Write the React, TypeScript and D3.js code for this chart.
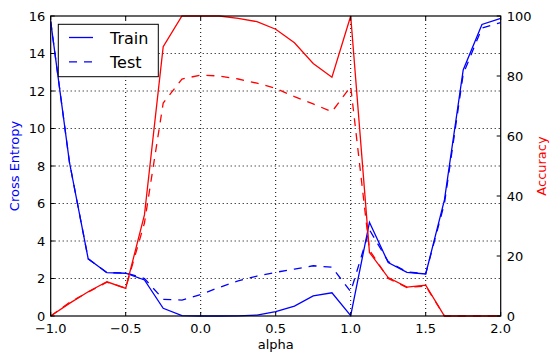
import React from "react";
import * as d3 from "d3";

// alpha values (25 steps from -1 to 2)
const alphas = d3.range(25).map(i => -1 + i * 0.125);

const trainLoss = [15.7, 8.2, 3.05, 2.31, 2.28, 1.92, 0.41, 0.02, 0, 0, 0.01, 0.05, 0.23, 0.53, 1.07, 1.24, 0.02, 5.0, 2.85, 2.33, 2.24, 6.19, 13.12, 15.55, 15.87];
const testLoss = [15.7, 8.2, 3.05, 2.31, 2.3, 2.0, 0.89, 0.85, 1.15, 1.53, 1.87, 2.13, 2.33, 2.5, 2.68, 2.6, 1.3, 4.6, 2.9, 2.35, 2.25, 6.0, 12.9, 15.36, 15.65];
const trainAcc = [0, 4.2, 8.1, 11.4, 9.2, 33.7, 89.8, 100, 100, 100, 99.2, 98.1, 95.6, 91.1, 84.2, 79.6, 100, 21.2, 12.8, 9.6, 10.3, 0, 0, 0, 0];
const testAcc = [0, 4.5, 8, 11.3, 9.3, 31, 71, 79, 80.3, 80, 79, 77.6, 75.9, 73.1, 70.7, 68.1, 76.5, 22, 12.5, 9.5, 10, 0, 0, 0, 0];

const xTicks = [-1, -0.5, 0, 0.5, 1, 1.5, 2];
const lossTicks = [0, 2, 4, 6, 8, 10, 12, 14, 16];
const accTicks = [0, 20, 40, 60, 80, 100];

const W = 550;
const H = 356;
const m = { left: 50.7, right: 500.7, top: 16, bottom: 316 };
const font = "DejaVu Sans";

const App: React.FC = () => {
  const x = d3.scaleLinear().domain([-1, 2]).range([m.left, m.right]);
  const yL = d3.scaleLinear().domain([0, 16]).range([m.bottom, m.top]);
  const yR = d3.scaleLinear().domain([0, 100]).range([m.bottom, m.top]);

  const lossLine = d3.line<number>().x((_, i) => x(alphas[i])).y(d => yL(d));
  const accLine = d3.line<number>().x((_, i) => x(alphas[i])).y(d => yR(d));

  const fmt = (v: number) => v.toFixed(1).replace("-", "\u2212");

  return (
    <svg width={W} height={H} style={{ position: "absolute", left: 0, top: 0 }} fontFamily={font}>
      <rect width={W} height={H} fill="white" />
      <defs>
        <clipPath id="plot">
          <rect x={m.left} y={m.top - 1} width={m.right - m.left} height={m.bottom - m.top + 2} />
        </clipPath>
      </defs>

      {/* grid */}
      {xTicks.slice(1, -1).map(t => (
        <line key={"gx" + t} x1={x(t)} x2={x(t)} y1={m.top} y2={m.bottom} stroke="black" strokeWidth={1} strokeDasharray="1,3" />
      ))}
      {lossTicks.slice(1, -1).map(t => (
        <line key={"gy" + t} x1={m.left} x2={m.right} y1={yL(t)} y2={yL(t)} stroke="black" strokeWidth={1} strokeDasharray="1,3" />
      ))}

      <g clipPath="url(#plot)" fill="none" strokeWidth={1.3}>
        <path d={lossLine(trainLoss) || ""} stroke="#0000ff" />
        <path d={lossLine(testLoss) || ""} stroke="#0000ff" strokeDasharray="8,7" />
        <path d={accLine(trainAcc) || ""} stroke="#ff0000" />
        <path d={accLine(testAcc) || ""} stroke="#ff0000" strokeDasharray="8,7" />
      </g>

      {/* frame */}
      <rect x={m.left} y={m.top} width={m.right - m.left} height={m.bottom - m.top} fill="none" stroke="black" strokeWidth={1.2} />

      {/* x ticks */}
      {xTicks.map(t => (
        <g key={"xt" + t}>
          <line x1={x(t)} x2={x(t)} y1={m.bottom} y2={m.bottom - 4} stroke="black" />
          <line x1={x(t)} x2={x(t)} y1={m.top} y2={m.top + 4} stroke="black" />
          <text x={x(t)} y={m.bottom + 17} fontSize={13} textAnchor="middle">{fmt(t)}</text>
        </g>
      ))}
      {/* left ticks */}
      {lossTicks.map(t => (
        <g key={"yl" + t}>
          <line x1={m.left} x2={m.left + 4} y1={yL(t)} y2={yL(t)} stroke="black" />
          <text x={m.left - 5.5} y={yL(t) + 4.7} fontSize={13} textAnchor="end">{t}</text>
        </g>
      ))}
      {/* right ticks */}
      {accTicks.map(t => (
        <g key={"yr" + t}>
          <line x1={m.right} x2={m.right - 4} y1={yR(t)} y2={yR(t)} stroke="black" />
          <text x={m.right + 6} y={yR(t) + 4.7} fontSize={13} textAnchor="start">{t}</text>
        </g>
      ))}

      <text x={(m.left + m.right) / 2} y={348.5} fontSize={13} textAnchor="middle">alpha</text>
      <text transform={`translate(18.5,${(m.top + m.bottom) / 2}) rotate(-90)`} fontSize={13} textAnchor="middle" fill="#0000ff">Cross Entropy</text>
      <text transform={`translate(546,${(m.top + m.bottom) / 2}) rotate(-90)`} fontSize={13} textAnchor="middle" fill="#ff0000">Accuracy</text>

      {/* legend */}
      <g>
        <rect x={58.3} y={24.3} width={100} height={52.4} fill="white" stroke="black" strokeWidth={1} />
        <line x1={69} x2={93} y1={37.5} y2={37.5} stroke="#0000ff" strokeWidth={1.3} />
        <text x={110} y={43.5} fontSize={16}>Train</text>
        <line x1={69} x2={93} y1={61.8} y2={61.8} stroke="#0000ff" strokeWidth={1.3} strokeDasharray="8,7" />
        <text x={110} y={67.8} fontSize={16}>Test</text>
      </g>
    </svg>
  );
};

export default App;
